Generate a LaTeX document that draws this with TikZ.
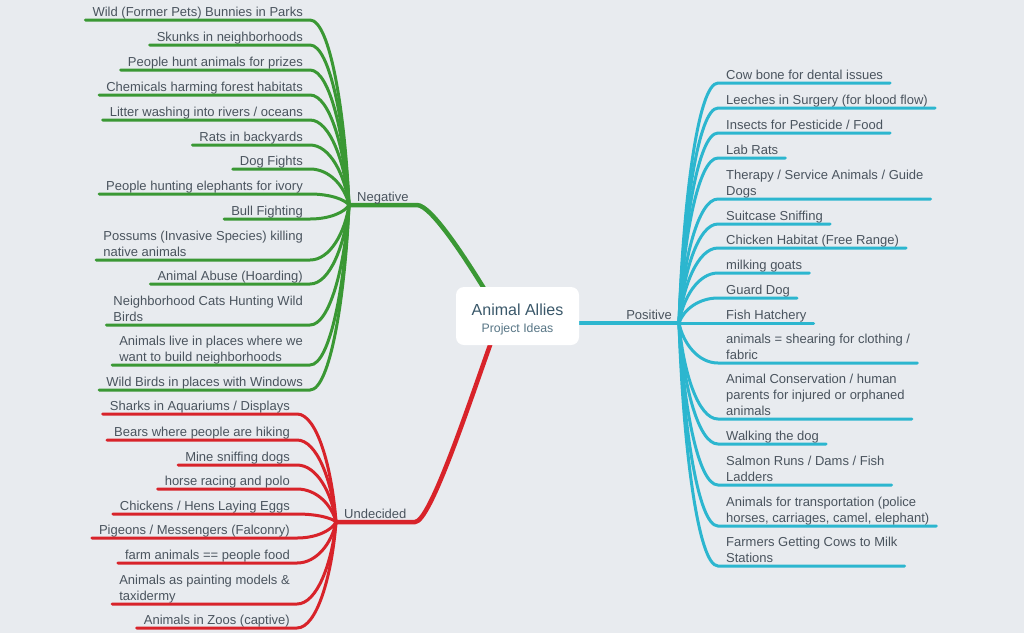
\documentclass[tikz,border=0pt]{standalone}
\usepackage{fontspec}
\setmainfont{Liberation Sans}
\usetikzlibrary{calc,backgrounds}
\definecolor{bg}{RGB}{232,235,239}
\definecolor{txt}{RGB}{74,84,94}
\definecolor{titlec}{RGB}{58,88,106}
\definecolor{subc}{RGB}{88,118,134}
\definecolor{negc}{RGB}{58,152,52}
\definecolor{posc}{RGB}{44,182,207}
\definecolor{undc}{RGB}{216,35,42}

\begin{document}
\begin{tikzpicture}[x=1pt,y=-1pt,
    leaf/.style={inner sep=0pt, align=left, text=txt, font=\fontsize{13}{16}\selectfont, execute at end node=\strut},
    negline/.style={draw=negc, line width=3pt, line cap=round},
    posline/.style={draw=posc, line width=3pt, line cap=round},
    undline/.style={draw=undc, line width=3pt, line cap=round}]

    \useasboundingbox (0,0) rectangle (1024,633);
    \begin{scope}[on background layer]
        \fill[bg] (0,0) rectangle (1024,633);
    \end{scope}

    \node[fill=white, rounded corners=8pt, minimum width=123pt, minimum height=58pt, inner sep=0pt] (AA) at (517.5,316) {};
    \node[inner sep=0pt, anchor=base, text=titlec, font=\fontsize{16}{19}\selectfont] (AAt) at (517.5,315) {Animal Allies};
    \node[inner sep=0pt, anchor=base, text=subc, font=\fontsize{12.3}{15}\selectfont] (AAs) at (517.5,332) {Project Ideas};

    \coordinate (neg) at (349,205);
    \coordinate (pos) at (679,323);
    \coordinate (und) at (336,522);

    \node[leaf, anchor=south west] (Neg) at (357,206.3) {Negative};
    \node[leaf, anchor=south east] (Pos) at (672,324.3) {Positive};
    \node[leaf, anchor=south west] (Und) at (344,523.3) {Undecided};

    \begin{scope}[on background layer]
        \draw[negline, line width=4.5pt] (neg) -- (417,205) .. controls (432,205) and (470,266) .. ([shift={(-34.5,0)}]AA.north) -- ([shift={(-28.5,10)}]AA.north);
        \draw[posline, line width=4.5pt] ([shift={(-5,7)}]AA.east) -- (pos);
        \draw[undline, line width=4.5pt] (und) -- (415,522) .. controls (430,522) and (468,407) .. ([shift={(-27.5,0)}]AA.south) -- ([shift={(-24.5,-8)}]AA.south);
    \end{scope}

    \foreach \y/\t [count=\i] in {20/{Wild (Former Pets) Bunnies in Parks}, 45/{Skunks in neighborhoods},
        70/{People hunt animals for prizes}, 95/{Chemicals harming forest habitats},
        120/{Litter washing into rivers / oceans}, 145/{Rats in backyards}, 169/{Dog Fights},
        194/{People hunting elephants for ivory}, 219/{Bull Fighting},
        260/{Possums (Invasive Species) killing\\native animals}, 284/{Animal Abuse (Hoarding)},
        325/{Neighborhood Cats Hunting Wild\\Birds}, 365/{Animals live in places where we\\want to build neighborhoods},
        390/{Wild Birds in places with Windows}}{
        \node[leaf, anchor=south east] (n\i) at (303,\y+1.3) {\t};
        \coordinate (ne\i) at (310,\y);
        \pgfmathsetmacro\dy{(\y-205)/2}
        \draw[negline] ([shift={(-7,-1.3)}]n\i.south west) -- (ne\i) .. controls +(20,0) and +(-4,\dy) .. (neg);
    }

    \foreach \y/\t [count=\i] in {414/{Sharks in Aquariums / Displays}, 440/{Bears where people are hiking},
        465/{Mine sniffing dogs}, 489/{horse racing and polo}, 514/{Chickens / Hens Laying Eggs},
        538/{Pigeons / Messengers (Falconry)}, 563/{farm animals == people food},
        604/{Animals as painting models \&\\taxidermy}, 628/{Animals in Zoos (captive)}}{
        \node[leaf, anchor=south east] (u\i) at (290,\y+1.3) {\t};
        \coordinate (ue\i) at (297,\y);
        \pgfmathsetmacro\dy{(\y-522)/2}
        \draw[undline] ([shift={(-7,-1.3)}]u\i.south west) -- (ue\i) .. controls +(20,0) and +(-4,\dy) .. (und);
    }

    \foreach \y/\t [count=\i] in {83/{Cow bone for dental issues}, 108/{Leeches in Surgery (for blood flow)},
        133/{Insects for Pesticide / Food}, 158/{Lab Rats}, 199/{Therapy / Service Animals / Guide\\Dogs},
        224/{Suitcase Sniffing}, 248/{Chicken Habitat (Free Range)}, 273/{milking goats}, 298/{Guard Dog},
        323/{Fish Hatchery}, 363/{animals = shearing for clothing /\\fabric},
        419/{Animal Conservation / human\\parents for injured or orphaned\\animals}, 444/{Walking the dog},
        485/{Salmon Runs / Dams / Fish\\Ladders}, 526/{Animals for transportation (police\\horses, carriages, camel, elephant)},
        566/{Farmers Getting Cows to Milk\\Stations}}{
        \node[leaf, anchor=south west] (p\i) at (726,\y+1.3) {\t};
        \coordinate (ps\i) at (718,\y);
        \pgfmathsetmacro\dy{(\y-323)/2}
        \draw[posline] (pos) .. controls +(4,\dy) and +(-20,0) .. (ps\i) -- ([shift={(7,-1.3)}]p\i.south east);
    }

\end{tikzpicture}
\end{document}
